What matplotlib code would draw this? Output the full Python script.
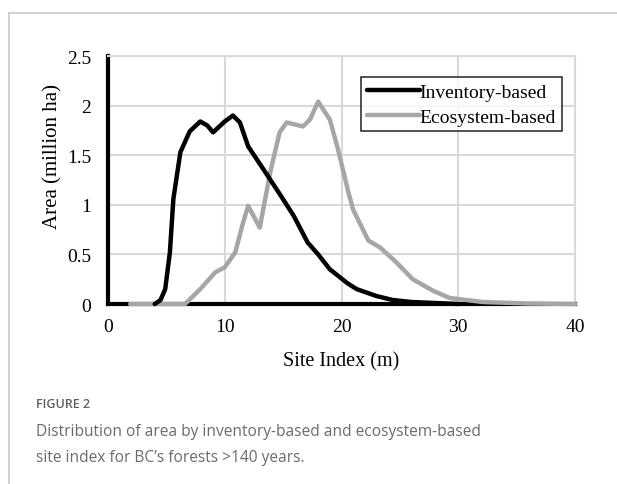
import matplotlib.pyplot as plt
from matplotlib.lines import Line2D

# inventory-based site index distribution
inv_x = [4.0, 4.5, 4.9, 5.3, 5.6, 6.2, 7.0, 7.9, 8.5, 9.0, 10.0, 10.7, 11.3, 12.0, 13.3, 14.7,
         15.9, 17.1, 18.0, 19.0, 20.5, 21.3, 23.0, 24.4, 26.0, 28.0, 30.0]
inv_y = [0, 0.04, 0.15, 0.52, 1.06, 1.53, 1.74, 1.84, 1.80, 1.73, 1.84, 1.90, 1.83, 1.59, 1.36, 1.11,
         0.89, 0.62, 0.50, 0.35, 0.21, 0.15, 0.08, 0.04, 0.02, 0.01, 0]

# ecosystem-based site index distribution
eco_x = [1.9, 6.6, 7.9, 9.2, 10.0, 10.9, 11.5, 12.0, 13.0, 13.9, 14.7, 15.3, 16.7, 17.3,
         18.0, 19.0, 19.7, 20.6, 21.0, 22.3, 23.3, 24.7, 26.1, 27.9, 29.3, 32.1, 36.0, 40]
eco_y = [0, 0, 0.15, 0.32, 0.37, 0.52, 0.79, 0.99, 0.77, 1.33, 1.73, 1.83, 1.79, 1.86,
         2.04, 1.86, 1.56, 1.12, 0.95, 0.64, 0.57, 0.42, 0.25, 0.13, 0.06, 0.02, 0.005, 0]

serif = 'Liberation Serif'

fig = plt.figure(figsize=(6.17, 4.85), dpi=100)

# card border (top and left)
fig.add_artist(Line2D([9/617, 1], [1-14/485, 1-14/485], color='#c8c8c8', lw=1.2))
fig.add_artist(Line2D([9/617, 9/617], [0, 1-14/485], color='#c8c8c8', lw=1.2))

ax = fig.add_axes([108/617, 1-305/485, (575-108)/617, (305-57)/485])

ax.plot(eco_x, eco_y, color='#a6a6a6', lw=3.2, solid_joinstyle='round', solid_capstyle='round',
        label='Ecosystem-based', zorder=3, clip_on=False)
ax.plot(inv_x, inv_y, color='black', lw=3.2, solid_joinstyle='round', solid_capstyle='round',
        label='Inventory-based', zorder=4, clip_on=False)

ax.set_xlim(0, 40)
ax.set_ylim(0, 2.5)
ax.set_xticks([0, 10, 20, 30, 40])
ax.set_yticks([0, 0.5, 1, 1.5, 2, 2.5])
ax.set_yticklabels(['0', '0.5', '1', '1.5', '2', '2.5'])
ax.grid(True, color='#d9d9d9', lw=1.5)
ax.set_axisbelow(True)
ax.tick_params(length=0, labelsize=14)
ax.tick_params(axis='x', pad=10)
ax.tick_params(axis='y', pad=12)
for lab in ax.get_xticklabels() + ax.get_yticklabels():
    lab.set_fontfamily(serif)

ax.spines['left'].set_linewidth(3)
ax.spines['bottom'].set_linewidth(3)
ax.spines['top'].set_color('#d9d9d9')
ax.spines['right'].set_color('#d9d9d9')
ax.spines['top'].set_linewidth(1.5)
ax.spines['right'].set_linewidth(1.5)

ax.set_xlabel('Site Index (m)', fontfamily=serif, fontsize=14.5, labelpad=12)
ax.set_ylabel('Area (million ha)', fontfamily=serif, fontsize=15)
ax.yaxis.set_label_coords(-0.097, 0.597)

handles, labels = ax.get_legend_handles_labels()
leg = ax.legend(handles[::-1], labels[::-1], loc='upper right', bbox_to_anchor=(0.972, 0.915),
                prop={'family': serif, 'size': 14},
                frameon=True, fancybox=False, edgecolor='black', handlelength=2.7,
                handletextpad=0.0, borderpad=0.3, labelspacing=0.38, borderaxespad=0)
leg.get_frame().set_linewidth(1.2)

fig.text(36/617, 1-405/485, 'FIGURE 2', fontfamily='Open Sans', fontsize=9, color='#5f5f5f',
         fontweight='semibold', va='center')
fig.text(36/617, 1-432/485, 'Distribution of area by inventory-based and ecosystem-based',
         fontfamily='Open Sans', fontsize=11.2, color='#6b6b6b', va='center')
fig.text(36/617, 1-458/485, "site index for BC\u2019s forests >140 years.",
         fontfamily='Open Sans', fontsize=11.2, color='#6b6b6b', va='center')

fig.savefig('out.png', dpi=100)
